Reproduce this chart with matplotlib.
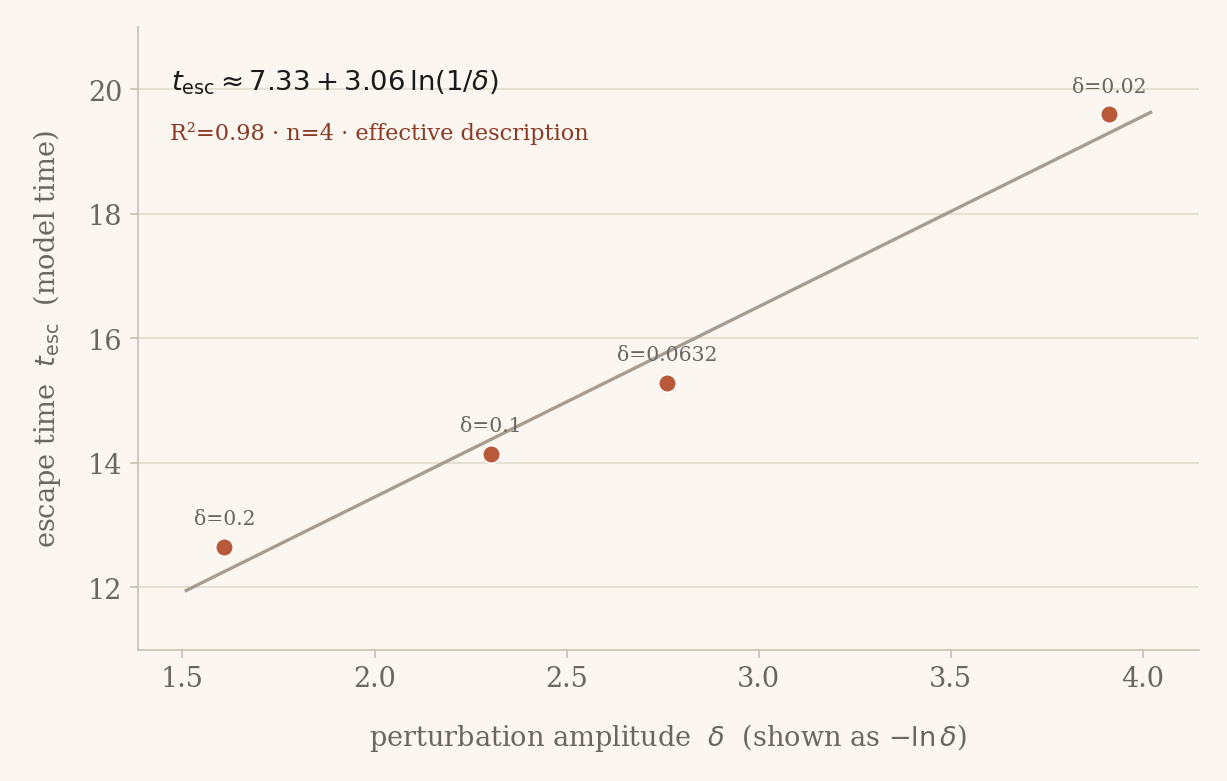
import numpy as np
import matplotlib
matplotlib.use("Agg")
import matplotlib.pyplot as plt

# data
deltas = [0.2, 0.1, 0.0632, 0.02]
t_esc = [12.65, 14.15, 15.28, 19.60]
labels = ["δ=0.2", "δ=0.1", "δ=0.0632", "δ=0.02"]
fit_a, fit_b = 7.33, 3.06
fit_range = [1.51, 4.02]

BG = "#fbf7f0"
DOT = "#b85a3a"
LINE = "#a89c90"
GREY = "#6b6660"

plt.rcParams["font.family"] = "DejaVu Serif"
plt.rcParams["mathtext.fontset"] = "dejavusans"

x = -np.log(deltas)

fig, ax = plt.subplots(figsize=(8.18, 5.213), dpi=150)
fig.patch.set_facecolor(BG)
ax.set_facecolor(BG)

xf = np.linspace(fit_range[0], fit_range[1], 50)
ax.plot(xf, fit_a + fit_b * xf, color=LINE, lw=1.6, zorder=2)
ax.scatter(x, t_esc, s=72, color=DOT, edgecolor="white", linewidth=0.8, zorder=3)
for xi, yi, lab in zip(x, t_esc, labels):
    ax.annotate(lab, (xi, yi), xytext=(0, 9), textcoords="offset points",
                ha="center", va="bottom", fontsize=9.8, color=GREY)

ax.text(0.031, 0.913, r"$t_{\rm esc} \approx 7.33 + 3.06\,\ln(1/\delta)$",
        transform=ax.transAxes, fontsize=13.2, color="#1a1a1a", va="center")
ax.text(0.03, 0.83, "R²=0.98 · n=4 · effective description",
        transform=ax.transAxes, fontsize=10.8, color="#8a3a25", va="center")

ax.margins(x=0.05)
ax.set_ylim(11, 21)
ax.set_yticks([12, 14, 16, 18, 20])
ax.grid(axis="y", color="#e6dfd4", lw=1.0)
ax.set_axisbelow(True)
for s in ["top", "right"]:
    ax.spines[s].set_visible(False)
for s in ["left", "bottom"]:
    ax.spines[s].set_color("#c9bfb3")
ax.tick_params(axis="x", colors="#c9bfb3", labelcolor=GREY, labelsize=13, length=4)
ax.tick_params(axis="y", colors="#c9bfb3", labelcolor=GREY, labelsize=13, length=4)

ax.set_xlabel(r"perturbation amplitude  $\delta$  (shown as $-\ln\delta$)",
              fontsize=13, color=GREY, labelpad=14)
ax.set_ylabel(r"escape time  $t_{\rm esc}$  (model time)",
              fontsize=13, color=GREY, labelpad=12)

fig.subplots_adjust(left=0.1125, right=0.977, bottom=0.168, top=0.964)
fig.savefig("out.png", dpi=150, facecolor=BG)
